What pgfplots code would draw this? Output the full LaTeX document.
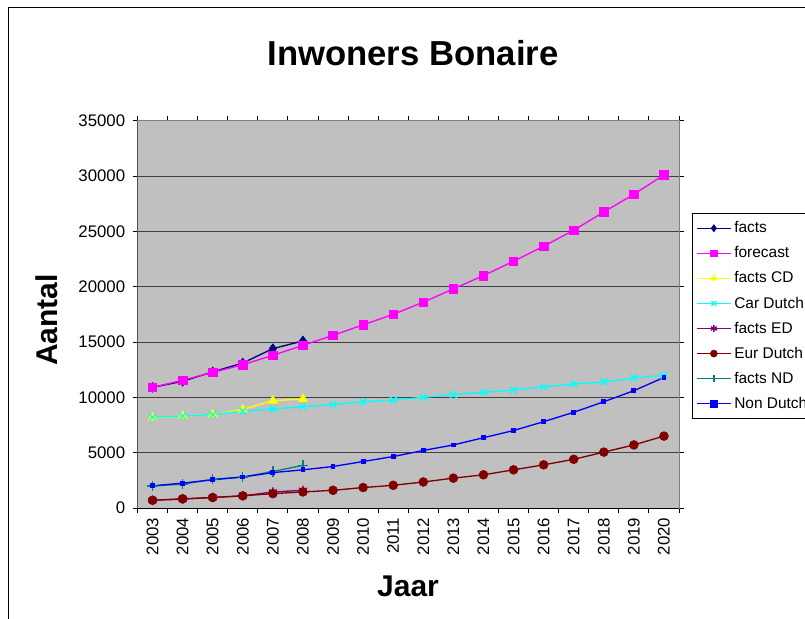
\documentclass[border=0pt]{standalone}
\usepackage{pgfplots}
\pgfplotsset{compat=1.18}
\usepackage{fontspec}
\setmainfont{Liberation Sans}
\definecolor{plotgray}{RGB}{192,192,192}
\definecolor{gridgray}{RGB}{64,64,64}
\definecolor{cnavy}{RGB}{0,0,128}
\definecolor{cmag}{RGB}{255,0,255}
\definecolor{cyel}{RGB}{255,255,0}
\definecolor{ccyan}{RGB}{0,255,255}
\definecolor{cpurp}{RGB}{128,0,128}
\definecolor{cdred}{RGB}{128,0,0}
\definecolor{cteal}{RGB}{0,128,128}
\definecolor{cblue}{RGB}{0,0,255}
\begin{document}
\begin{tikzpicture}
\useasboundingbox (0pt,0pt) rectangle (603.75pt,463.5pt);
\clip (0pt,0pt) rectangle (603.75pt,463.5pt);
\draw[black, line width=0.75pt] (6pt,-2pt) -- (6pt,457.5pt) -- (610pt,457.5pt);
\begin{axis}[
  at={(103.125pt,82.5pt)}, anchor=south west,
  scale only axis, width=406.125pt, height=290.5pt,
  xmin=2002.5, xmax=2020.5, ymin=0, ymax=35000,
  axis background/.style={fill=plotgray},
  axis line style={draw=gray, line width=0.75pt},
  ymajorgrids, major grid style={draw=gridgray, line width=0.75pt},
  xtick={2003,...,2020},
  minor xtick={2002.5,2003.5,...,2020.5},
  major x tick style={draw=none},
  ytick={0,5000,...,35000},
  tick align=outside,
  major tick length=3.75pt, minor tick length=3.75pt,
  tick style={black, line width=0.75pt},
  /pgf/number format/assume math mode=true,
  /pgf/number format/1000 sep={},
  ticklabel style={font=\fontsize{12.6}{14}\selectfont},
  yticklabel style={xshift=-2pt},
  xticklabel style={rotate=90, anchor=east},
  scaled y ticks=false,
  every axis plot/.append style={line width=1pt},
  legend cell align=left,
  legend style={at={(1.0235,0.761)}, anchor=north west, draw=black, line width=0.6pt,
    font=\fontsize{11.6}{13}\selectfont, row sep=4.9pt, inner ysep=4pt,
    legend image code/.code={\draw[mark repeat=2,mark phase=2, mark size=2.6pt] plot coordinates {(0cm,0cm) (0.45cm,0cm) (0.9cm,0cm)};}},
]
\addplot[color=cnavy, mark=diamond*, mark size=3.6pt, mark options={line width=0.5pt}] coordinates {
(2003,10900) (2004,11450) (2005,12300) (2006,13100) (2007,14400) (2008,15100)};
\addlegendentry{facts}
\addplot[color=cmag, mark=square*, mark size=3.2pt, mark options={line width=0.5pt}] coordinates {
(2003,10900) (2004,11550) (2005,12250) (2006,12950) (2007,13800) (2008,14700)
(2009,15600) (2010,16550) (2011,17500) (2012,18600) (2013,19800) (2014,21000)
(2015,22300) (2016,23650) (2017,25100) (2018,26750) (2019,28350) (2020,30100)};
\addlegendentry{forecast}
\addplot[color=cyel, mark=triangle*, mark size=3.8pt, mark options={line width=0.5pt}] coordinates {
(2003,8150) (2004,8300) (2005,8450) (2006,8900) (2007,9700) (2008,9850)};
\addlegendentry{facts CD}
\addplot[color=ccyan, mark=x, mark size=3.5pt] coordinates {
(2003,8200) (2004,8300) (2005,8450) (2006,8750) (2007,8950) (2008,9150)
(2009,9350) (2010,9600) (2011,9750) (2012,10000) (2013,10250) (2014,10450)
(2015,10650) (2016,10950) (2017,11200) (2018,11400) (2019,11750) (2020,12000)};
\addlegendentry{Car Dutch}
\addplot[color=cpurp, mark=asterisk, mark size=3.5pt] coordinates {
(2003,700) (2004,800) (2005,950) (2006,1100) (2007,1450) (2008,1600)};
\addlegendentry{facts ED}
\addplot[color=cdred, mark=*, mark size=3.3pt, mark options={line width=0.5pt}] coordinates {
(2003,700) (2004,830) (2005,950) (2006,1100) (2007,1300) (2008,1450)
(2009,1600) (2010,1850) (2011,2050) (2012,2350) (2013,2700) (2014,3000)
(2015,3450) (2016,3900) (2017,4400) (2018,5050) (2019,5700) (2020,6500)};
\addlegendentry{Eur Dutch}
\addplot[color=cteal, mark=+, mark size=3.8pt] coordinates {
(2003,2000) (2004,2150) (2005,2600) (2006,2800) (2007,3300) (2008,3850)};
\addlegendentry{facts ND}
\addplot[color=cblue, mark=square*, mark size=1.3pt] coordinates {
(2003,2000) (2004,2250) (2005,2550) (2006,2800) (2007,3200) (2008,3450)
(2009,3750) (2010,4200) (2011,4650) (2012,5200) (2013,5700) (2014,6350)
(2015,7000) (2016,7800) (2017,8650) (2018,9600) (2019,10600) (2020,11800)};
\addlegendentry{Non Dutch}
\draw[black, line width=0.75pt] (rel axis cs:0,1) -- (rel axis cs:0,0) -- (rel axis cs:1,0);
\end{axis}
\node[font=\fontsize{26}{30}\selectfont\bfseries] at (309.75pt,423.75pt) {Inwoners Bonaire};
\node[font=\fontsize{22.5}{26}\selectfont\bfseries, rotate=90] at (35.25pt,223.5pt) {Aantal};
\node[font=\fontsize{22.5}{26}\selectfont\bfseries] at (306pt,24pt) {Jaar};
\end{tikzpicture}
\end{document}
